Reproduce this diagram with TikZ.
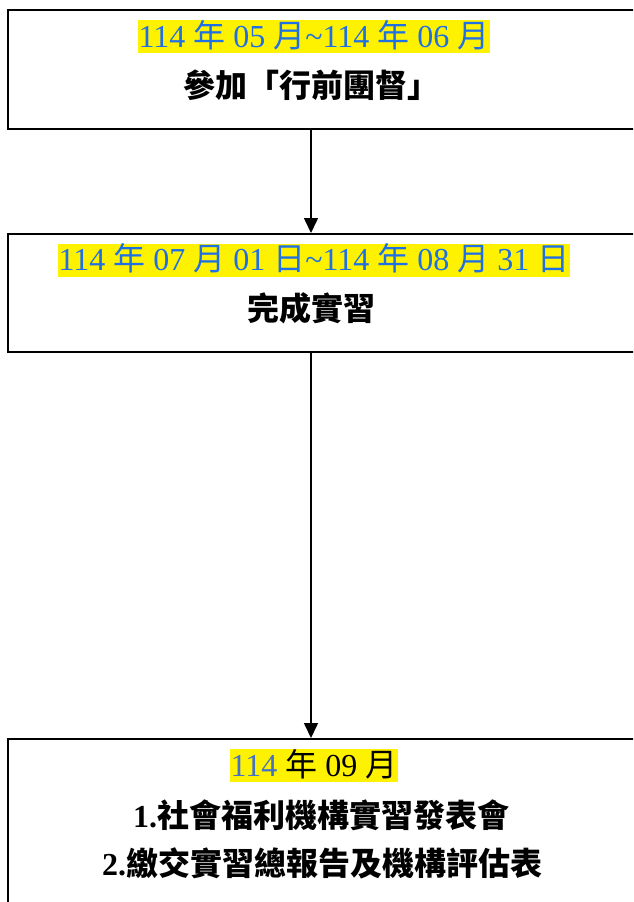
\documentclass[tikz,border=0pt]{standalone}
\usepackage{fontspec}
\setmainfont{Liberation Serif}
\newfontfamily\cjk{Noto Sans CJK TC}
\usetikzlibrary{arrows.meta}
\definecolor{dateblue}{RGB}{31,111,229}
\definecolor{yearblue}{RGB}{68,114,196}
\newcommand{\zh}[1]{{\cjk #1}}
\tikzset{
  stepbox/.style={draw, line width=1.5pt, anchor=north west, inner sep=0pt, minimum width=660pt},
  datebox/.style={fill=yellow, text=dateblue, font=\fontsize{32}{36}\selectfont,
    inner xsep=1pt, inner ysep=1pt, text height=26pt, text depth=5pt},
  titletext/.style={font=\fontsize{32}{36}\selectfont\bfseries, text height=26pt, text depth=4pt, inner sep=0pt},
  flow/.style={line width=1.6pt, -{Triangle[width=14pt,length=15pt]}}
}

\begin{document}
\begin{tikzpicture}[x=1pt,y=-1pt]
\useasboundingbox (0,0) rectangle (633,902);
\clip (0,0) rectangle (633,902);

% the three stages
\node[stepbox, minimum height=119pt] (box1) at (7,9) {};
\node[stepbox, minimum height=118pt] (box2) at (7,233) {};
\node[stepbox, minimum height=200pt] (box3) at (7,738) {};

% stage 1
\node[datebox] (date1) at (314,36.5) {114 \zh{年} 05 \zh{月}\textasciitilde 114 \zh{年} 06 \zh{月}};
\node[titletext] (title1) at (311,86) {\zh{參加「行前團督」}};

% stage 2
\node[datebox] (date2) at (314,260) {114 \zh{年} 07 \zh{月} 01 \zh{日}\textasciitilde 114 \zh{年} 08 \zh{月} 31 \zh{日}};
\node[titletext] (title2) at (311,309) {\zh{完成實習}};

% stage 3
\node[datebox, text=black] (date3) at (314,765.5) {{\color{yearblue}114} \zh{年} 09 \zh{月}};
\node[titletext] (item1) at (321,816) {1.\zh{社會福利機構實習發表會}};
\node[titletext] (item2) at (322,864) {2.\zh{繳交實習總報告及機構評估表}};

\draw[flow] (title1 |- box1.south) -- (title1 |- box2.north);
\draw[flow] (title2 |- box2.south) -- (title2 |- box3.north);
\end{tikzpicture}
\end{document}
